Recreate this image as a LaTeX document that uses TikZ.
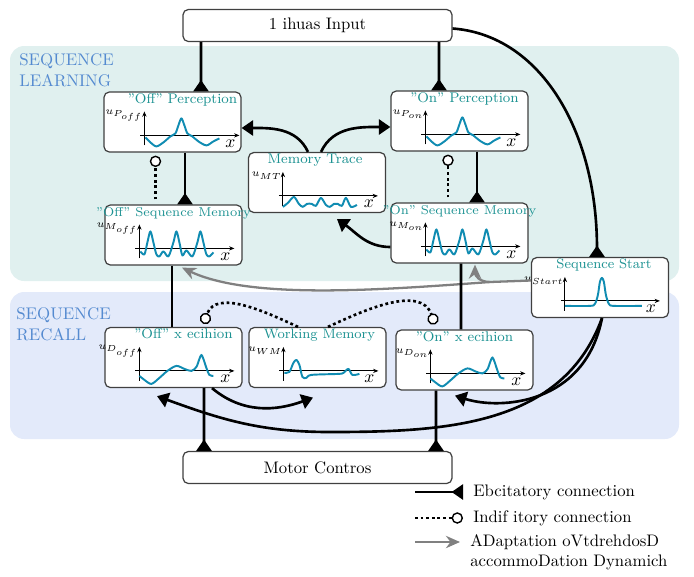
\documentclass[tikz,border=0pt]{standalone}
\usetikzlibrary{arrows.meta,calc}
\definecolor{learnbg}{RGB}{224,240,239}
\definecolor{recallbg}{RGB}{227,234,250}
\definecolor{titleteal}{RGB}{28,146,146}
\definecolor{fieldblue}{RGB}{16,140,178}
\definecolor{sectblue}{RGB}{84,138,208}
\begin{document}
\begin{tikzpicture}[x=0.02cm, y=-0.02cm,
    box/.style={draw=black!75, fill=white, rounded corners=3pt, line width=0.7pt, minimum width=2.74cm, minimum height=1.2cm, inner sep=0pt},
    io/.style={box, minimum width=5.38cm, minimum height=0.64cm, font=\fontsize{9.5}{11}\selectfont},
    title/.style={text=titleteal, anchor=base, inner sep=0pt},
    sect/.style={text=sectblue, anchor=west, align=left, inner sep=0pt, font=\fontsize{9.6}{11.8}\selectfont},
    legend/.style={anchor=west, align=left, inner sep=0pt, font=\fontsize{9.5}{11.4}\selectfont},
    axis/.style={line width=0.5pt, -{Stealth[length=3pt,width=2.4pt]}},
    field/.style={fieldblue, line width=1.1pt, line join=round},
    excite/.style={line width=1.5pt, -{Triangle[reversed,length=6.5pt,width=8.5pt]}},
    excitebent/.style={line width=1.5pt, -{Triangle[length=6.5pt,width=8.5pt]}},
    inhibit/.style={line width=1.5pt, dash pattern=on 1.6pt off 1.6pt, -{Circle[length=6.5pt,line width=0.8pt,fill=white]}},
    adapt/.style={draw=black!50, line width=1.3pt, -{Stealth[length=8pt,width=7pt]}}]
    \useasboundingbox (0,0) rectangle (694,576);
    \fill[learnbg, rounded corners=8pt] (10,46) rectangle (679,281);
    \fill[recallbg, rounded corners=8pt] (10,292) rectangle (679,439);
    \node[sect] (learn) at (19,70) {SEQUENCE\\LEARNING};
    \node[sect] (recall) at (16,324) {SEQUENCE\\RECALL};
    \node[io] (vin) at (317.5,25.5) {1 ihuas Input};
    \node[io] (motor) at (317.5,467.5) {Motor Contros};
    \foreach \n/\x/\y in {poff/172.5/122, moff/173.5/235, mt/317/182.5, pon/459.5/121, mon/459.5/233, ss/600/287.5, doff/173.5/357.5, wm/317.5/357.5, don/464.5/360}
        \node[box] (\n) at (\x,\y) {};
    \foreach \n/\t/\o/\s in {poff/{"Off" Perception}/10/8, moff/{"Off" Sequence Memory}/0/7.3, mt/{Memory Trace}/-2/8, pon/{"On" Perception}/5/8, mon/{"On" Sequence Memory}/0/7.3, ss/{Sequence Start}/4/7.8, doff/{"Off" x ecihion}/10/8, wm/{Working Memory}/2/7.8, don/{"On" x ecihion}/0/8}
        \node[title, font=\fontsize{\s}{9}\selectfont] (t\n) at ($(\n.north)+(\o,12)$) {\t};
    \foreach \n/\u/\o in {poff/P_{off}/6, moff/M_{off}/0, mt/MT/0, pon/P_{on}/0, mon/M_{on}/0, ss/Start/-1, doff/D_{off}/0, wm/WM/0, don/D_{on}/0}{
        \begin{scope}[shift={($(\n.north west)+(\o,0)$)}]
            \draw[axis] (31,44) -- (130,44);
            \draw[axis] (35,54) -- (35,20);
            \node[anchor=east, inner sep=0pt, font=\fontsize{6.5}{7}\selectfont] (u\n) at (34,24) {$u_{\u}$};
            \node[inner sep=0pt] (x\n) at (121,52) {$x$};
        \end{scope}}
    \foreach \n/\o in {poff/6, pon/0}
        \draw[field, shift={($(\n.north west)+(\o,0)$)}] plot[smooth] coordinates {(36,46) (41,51) (47,55) (54,51) (61,45) (66,42) (69,34) (72,27) (75,34) (78,42) (83,45) (89,50) (97,54) (104,50) (110,47)};
    \foreach \n in {moff, mon}
        \draw[field, shift={(\n.north west)}] plot[smooth] coordinates {(36,47) (40,50) (43,38) (46,27) (49,38) (52,50) (55,52) (59,47) (64,52) (69,38) (72,27) (75,38) (78,51) (82,46) (88,52) (93,38) (96,27) (99,38) (102,50) (105,52) (109,48)};
    \foreach \n in {doff, don}
        \draw[field, shift={(\n.north west)}] plot[smooth] coordinates {(35,49) (40,53) (47,57) (55,51) (63,44) (72,39) (80,42) (87,44) (92,40) (95,32) (97,28) (99,32) (102,41) (105,48) (109,49)};
    \draw[field, shift={(mt.north west)}] plot[smooth] coordinates {(35,55) (40,51) (46,45) (51,52) (55,55) (59,52) (64,52) (68,54) (73,46) (78,53) (82,55) (86,52) (90,52) (94,54) (98,46) (103,55) (109,53)};
    \draw[field, shift={($(ss.north west)+(-1,0)$)}] plot[smooth] coordinates {(35,49) (60,49) (65,47) (68,38) (70,25) (72,21) (74,25) (76,38) (79,47) (84,49) (112,49)};
    \draw[field, shift={(wm.north west)}] plot[smooth] coordinates {(36,46) (41,45) (45,36) (48,33) (51,38) (54,50) (58,51) (63,48) (90,47) (95,46) (100,42) (104,48) (111,47)};
    \coordinate (split) at (490,282);
    \coordinate (low) at (330,432);
    \draw[adapt] ($(ss.west)+(0,-7)$) -- (split) .. controls (380,290) and (250,300) .. ($(moff.south)+(8.5,2)$);
    \draw[adapt] (split) .. controls (480,282) and (475,276) .. ($(mon.south)+(15.5,1)$);
    \draw[excite] ($(vin.south)+(-116.5,0)$) -- ($(poff.north)+(28.5,0)$);
    \draw[excite] ($(vin.south)+(121.5,0)$) -- ($(pon.north)+(-20.5,0)$);
    \draw[excite] ($(vin.east)+(0,3)$) .. controls (540,35) and (597,130) .. ($(ss.north)+(-3,0)$);
    \draw[excite] ($(poff.south)+(12.5,0)$) -- ($(moff.north)+(11.5,0)$);
    \draw[inhibit] ($(moff.north)+(-18,-5)$) -- ($(poff.south)+(-17,3)$);
    \draw[excite] ($(pon.south)+(17.5,0)$) -- ($(mon.north)+(17.5,0)$);
    \draw[inhibit] ($(mon.north)+(-11.5,-5)$) -- ($(pon.south)+(-11.5,3)$);
    \draw[excitebent] ($(mt.north)+(-9,0)$) to[out=115,in=0] ($(poff.east)+(0,6)$);
    \draw[excitebent] ($(mt.north)+(4,0)$) to[out=65,in=180] ($(pon.west)+(0,6)$);
    \draw[excitebent] ($(mon.west)+(0,14)$) to[out=180,in=-35] ($(mt.south)+(20,6)$);
    \draw[line width=1.5pt] ($(moff.south)+(-1.5,0)$) -- ($(doff.north)+(-1.5,0)$);
    \draw[line width=1.5pt] ($(mon.south)+(1.5,0)$) -- ($(don.north)+(-3.5,0)$);
    \draw[inhibit] ($(wm.north)+(-19.5,0)$) to[out=155,in=70] ($(doff.north)+(30,-3)$);
    \draw[inhibit] ($(wm.north)+(10.5,0)$) to[out=25,in=110] ($(don.north)+(-29.5,-5)$);
    \draw[excitebent] ($(doff.south)+(38.5,0)$) to[out=-40,in=200] ($(wm.south)+(-4.5,9.5)$);
    \draw[excitebent] ($(ss.south)+(2,0)$) .. controls (585,405) and (500,410) .. ($(don.south)+(-9.5,5)$);
    \draw[excitebent] ($(ss.south)+(2,0)$) to[out=-110,in=0] (low) to[out=180,in=-20] ($(doff.south)+(-16.5,8)$);
    \draw[excite] ($(doff.south)+(30.5,0)$) -- ($(motor.north)+(-113.5,0)$);
    \draw[excite] ($(don.south)+(-28.5,0)$) -- ($(motor.north)+(118.5,0)$);
    \node[legend] (lexc) at (473,492) {Ebcitatory connection};
    \node[legend] (linh) at (473,518) {Indif itory connection};
    \node[legend] (lada) at (470,552) {ADaptation oVtdrehdosD\\accommoDation Dynamich};
    \draw[excite] ($(lexc.west)+(-58,0)$) -- ($(lexc.west)+(-10,0)$);
    \draw[inhibit] ($(linh.west)+(-58,0)$) -- ($(linh.west)+(-10,0)$);
    \draw[adapt] ($(lada.west)+(-55,-10)$) -- ($(lada.west)+(-10,-10)$);
\end{tikzpicture}
\end{document}
